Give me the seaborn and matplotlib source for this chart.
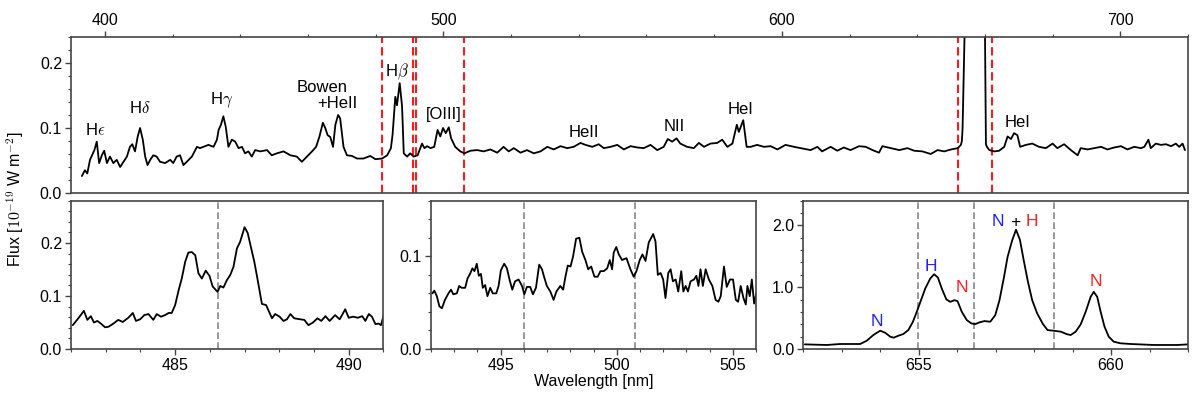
"""Spectrum overview with three zoom panels"""
import matplotlib
matplotlib.use('Agg')
import matplotlib.pyplot as plt
from matplotlib.ticker import MultipleLocator, FormatStrFormatter
import seaborn as sns
import numpy as np
import pandas as pd

# --- overview spectrum (blue part, up to H-alpha) ---
wl_blue = [393.2, 394.1, 394.8, 395.6, 396.4, 396.9, 397.6, 398.3, 399.1, 399.8,
           400.6, 401.5, 402.5, 403.5, 404.5, 405.5, 406.5, 407.4, 408.1, 408.9,
           409.7, 410.4, 411.2, 411.9, 412.6, 413.4, 414.3, 415.3, 416.3, 417.8,
           419.3, 420.2, 421.2, 422.2, 423.2, 424.2, 425.7, 427.2, 428.1, 429.1,
           430.6, 432.1, 433.1, 433.6, 434.3, 435.0, 435.7, 436.5, 437.5, 438.5,
           439.5, 440.5, 441.4, 442.4, 443.4, 444.4, 445.9, 447.9, 449.3, 450.8,
           452.8, 454.8, 456.7, 458.2, 459.7, 461.2, 462.4, 463.4, 464.4, 465.1,
           465.8, 466.6, 467.4, 468.1, 468.9, 469.5, 470.5, 471.5, 473.0, 474.5,
           476.4, 478.4, 479.9, 481.9, 483.4, 484.5, 485.0, 485.3, 485.8, 486.3,
           487.1, 487.8, 488.3, 489.3, 490.2, 491.2, 492.4, 493.7, 494.4, 495.2,
           496.2, 497.3, 498.3, 499.1, 499.9, 500.7, 501.6, 502.3, 503.5, 505.0,
           506.2, 508.0, 510.0, 511.9, 513.9, 515.9, 517.8, 519.3, 520.8, 522.8,
           524.7, 526.7, 528.7, 530.7, 532.6, 534.6, 536.6, 538.5, 540.5, 542.0,
           544.0, 545.9, 547.4, 549.4, 551.4, 553.3, 555.3, 557.3, 559.2, 561.2,
           563.2, 565.1, 566.3, 567.6, 568.9, 570.0, 572.0, 574.0, 575.5, 577.0,
           578.9, 580.9, 582.4, 583.9, 585.4, 586.7, 587.3, 588.6, 589.6, 590.8,
           592.7, 594.7, 596.7, 598.7, 601.1, 603.6, 605.5, 608.5, 610.5, 611.9,
           614.4, 616.4, 618.3, 620.3, 622.8, 624.8, 626.8, 628.7, 629.7, 632.2,
           634.7, 637.1, 639.1, 641.5, 644.0, 646.0, 648.0, 650.0, 652.0, 652.9]
flux_blue = [0.026, 0.035, 0.030, 0.051, 0.060, 0.066, 0.079, 0.046, 0.058, 0.065,
             0.046, 0.056, 0.046, 0.051, 0.040, 0.048, 0.056, 0.071, 0.075, 0.064,
             0.087, 0.100, 0.082, 0.056, 0.043, 0.051, 0.058, 0.056, 0.048, 0.046,
             0.051, 0.046, 0.056, 0.058, 0.043, 0.048, 0.056, 0.071, 0.069, 0.071,
             0.074, 0.071, 0.082, 0.097, 0.105, 0.118, 0.102, 0.071, 0.082, 0.079,
             0.069, 0.071, 0.061, 0.064, 0.056, 0.066, 0.064, 0.066, 0.058, 0.061,
             0.064, 0.058, 0.056, 0.048, 0.056, 0.064, 0.071, 0.087, 0.108, 0.100,
             0.089, 0.086, 0.071, 0.105, 0.120, 0.115, 0.071, 0.058, 0.057, 0.053,
             0.053, 0.057, 0.052, 0.053, 0.058, 0.069, 0.090, 0.112, 0.148, 0.135,
             0.169, 0.133, 0.061, 0.056, 0.061, 0.056, 0.058, 0.076, 0.069, 0.072,
             0.069, 0.071, 0.097, 0.087, 0.100, 0.092, 0.101, 0.084, 0.071, 0.064,
             0.061, 0.065, 0.066, 0.064, 0.067, 0.062, 0.071, 0.064, 0.069, 0.062,
             0.066, 0.061, 0.064, 0.071, 0.067, 0.072, 0.069, 0.071, 0.077, 0.074,
             0.071, 0.075, 0.069, 0.071, 0.074, 0.067, 0.072, 0.070, 0.069, 0.074,
             0.066, 0.071, 0.083, 0.079, 0.084, 0.076, 0.071, 0.069, 0.077, 0.071,
             0.076, 0.077, 0.082, 0.071, 0.076, 0.105, 0.094, 0.112, 0.071, 0.071,
             0.074, 0.071, 0.072, 0.067, 0.074, 0.071, 0.069, 0.066, 0.071, 0.064,
             0.071, 0.065, 0.070, 0.066, 0.072, 0.071, 0.066, 0.062, 0.072, 0.069,
             0.066, 0.069, 0.065, 0.064, 0.060, 0.066, 0.064, 0.067, 0.069, 0.074]

# --- overview spectrum around H-alpha (peak runs off the top) ---
wl_core = [653.2, 653.4, 654.3, 659.9, 660.3]
flux_core = [0.080, 0.100, 0.320, 0.320, 0.075]

# --- overview spectrum (red part, after H-alpha) ---
wl_red = [660.6, 661.3, 662.8, 664.2, 665.7, 666.7, 667.7, 668.6, 669.6, 670.4, 672.1,
          674.0, 676.0, 678.0, 680.0, 681.4, 683.4, 685.4, 687.4, 688.3, 690.3,
          692.3, 694.3, 696.2, 698.2, 700.2, 702.1, 704.1, 706.1, 707.1, 708.3,
          709.0, 710.5, 712.0, 713.5, 715.0, 716.4, 717.4, 718.4, 719.1]
flux_red = [0.071, 0.066, 0.064, 0.065, 0.071, 0.087, 0.083, 0.092, 0.089, 0.071, 0.074,
            0.076, 0.071, 0.069, 0.076, 0.069, 0.075, 0.066, 0.058, 0.069, 0.067,
            0.069, 0.071, 0.067, 0.070, 0.072, 0.067, 0.071, 0.069, 0.071, 0.082,
            0.069, 0.076, 0.074, 0.075, 0.072, 0.076, 0.071, 0.076, 0.066]

# --- H-beta zoom ---
wl_hb = [482.05, 482.21, 482.37, 482.47, 482.57, 482.66, 482.76, 482.86, 482.98, 483.08,
         483.22, 483.36, 483.49, 483.65, 483.78, 483.87, 483.99, 484.11, 484.23, 484.37,
         484.47, 484.59, 484.71, 484.81, 484.90, 485.00, 485.10, 485.19, 485.29, 485.38,
         485.48, 485.58, 485.67, 485.77, 485.88, 485.99, 486.08, 486.22, 486.30, 486.39,
         486.49, 486.59, 486.68, 486.78, 486.87, 487.00, 487.09, 487.18, 487.28, 487.37,
         487.50, 487.62, 487.79, 487.88, 488.01, 488.12, 488.22, 488.32, 488.43, 488.61,
         488.72, 488.84, 488.97, 489.10, 489.21, 489.33, 489.45, 489.61, 489.74, 489.90,
         490.00, 490.13, 490.26, 490.39, 490.48, 490.58, 490.67, 490.77, 490.86, 490.93,
         491.01]
flux_hb = [0.045, 0.058, 0.072, 0.055, 0.062, 0.050, 0.053, 0.048, 0.041, 0.042,
           0.048, 0.055, 0.051, 0.059, 0.068, 0.053, 0.056, 0.064, 0.066, 0.055,
           0.066, 0.061, 0.064, 0.068, 0.068, 0.083, 0.111, 0.133, 0.165, 0.182,
           0.183, 0.177, 0.143, 0.133, 0.148, 0.138, 0.118, 0.108, 0.119, 0.116,
           0.130, 0.140, 0.155, 0.190, 0.202, 0.230, 0.219, 0.193, 0.165, 0.133,
           0.085, 0.083, 0.058, 0.066, 0.061, 0.053, 0.056, 0.066, 0.058, 0.056,
           0.055, 0.045, 0.050, 0.058, 0.053, 0.062, 0.053, 0.064, 0.056, 0.075,
           0.059, 0.061, 0.059, 0.062, 0.053, 0.066, 0.061, 0.047, 0.048, 0.045,
           0.064]

# --- [OIII] zoom ---
wl_o3 = [492.06, 492.14, 492.25, 492.36, 492.47, 492.60, 492.75, 492.86, 492.96, 493.11,
         493.21, 493.32, 493.47, 493.57, 493.68, 493.78, 493.87, 493.97, 494.06, 494.15,
         494.23, 494.33, 494.43, 494.55, 494.66, 494.81, 494.91, 495.01, 495.15, 495.27,
         495.38, 495.50, 495.62, 495.77, 495.92, 496.02, 496.13, 496.27, 496.39, 496.52,
         496.66, 496.78, 496.88, 496.99, 497.14, 497.28, 497.40, 497.57, 497.69, 497.79,
         497.89, 498.01, 498.12, 498.25, 498.39, 498.51, 498.65, 498.77, 498.90, 499.04,
         499.18, 499.30, 499.44, 499.59, 499.70, 499.80, 499.87, 499.98, 500.09, 500.23,
         500.42, 500.59, 500.73, 500.85, 500.99, 501.11, 501.24, 501.38, 501.57, 501.67,
         501.77, 501.89, 502.00, 502.10, 502.22, 502.32, 502.42, 502.54, 502.65, 502.78,
         502.87, 502.97, 503.07, 503.18, 503.33, 503.43, 503.52, 503.61, 503.71, 503.83,
         503.97, 504.12, 504.26, 504.38, 504.48, 504.62, 504.74, 504.88, 505.01, 505.13,
         505.23, 505.34, 505.46, 505.56, 505.63, 505.73, 505.82, 505.92, 506.03]
flux_o3 = [0.060, 0.063, 0.057, 0.046, 0.044, 0.053, 0.060, 0.064, 0.059, 0.060,
           0.068, 0.066, 0.066, 0.076, 0.081, 0.087, 0.084, 0.092, 0.079, 0.081,
           0.066, 0.069, 0.057, 0.066, 0.060, 0.060, 0.068, 0.085, 0.092, 0.087,
           0.075, 0.064, 0.073, 0.075, 0.068, 0.059, 0.067, 0.067, 0.059, 0.066,
           0.091, 0.086, 0.077, 0.068, 0.062, 0.053, 0.062, 0.068, 0.064, 0.078,
           0.090, 0.089, 0.100, 0.119, 0.120, 0.105, 0.096, 0.086, 0.089, 0.078,
           0.078, 0.084, 0.084, 0.087, 0.096, 0.086, 0.104, 0.110, 0.102, 0.096,
           0.098, 0.086, 0.078, 0.084, 0.096, 0.102, 0.095, 0.115, 0.124, 0.116,
           0.080, 0.082, 0.075, 0.055, 0.082, 0.086, 0.073, 0.075, 0.062, 0.084,
           0.062, 0.068, 0.062, 0.073, 0.075, 0.079, 0.068, 0.086, 0.068, 0.086,
           0.075, 0.068, 0.053, 0.051, 0.057, 0.089, 0.067, 0.075, 0.075, 0.053,
           0.051, 0.068, 0.055, 0.048, 0.068, 0.057, 0.075, 0.049, 0.062]

# --- H-alpha + [NII] zoom ---
wl_ha = [652.04, 652.61, 652.96, 653.48, 653.65, 653.82, 654.00, 654.13, 654.26, 654.35,
         654.47, 654.60, 654.73, 654.85, 654.95, 655.06, 655.17, 655.30, 655.40, 655.50,
         655.60, 655.72, 655.82, 655.93, 656.01, 656.12, 656.25, 656.37, 656.47, 656.58,
         656.71, 656.86, 656.99, 657.10, 657.21, 657.31, 657.43, 657.53, 657.63, 657.73,
         657.84, 657.95, 658.08, 658.23, 658.35, 658.51, 658.70, 658.84, 658.95, 659.08,
         659.21, 659.34, 659.47, 659.55, 659.64, 659.73, 659.83, 659.94, 660.07, 660.25,
         660.51, 661.11, 661.72, 662.00]
flux_ha = [0.075, 0.065, 0.081, 0.081, 0.134, 0.226, 0.296, 0.263, 0.199, 0.183,
           0.215, 0.242, 0.306, 0.441, 0.602, 0.790, 0.978, 1.140, 1.210, 1.156,
           0.978, 0.802, 0.763, 0.790, 0.774, 0.602, 0.468, 0.414, 0.403, 0.431,
           0.452, 0.441, 0.548, 0.790, 1.140, 1.489, 1.758, 1.930, 1.770, 1.435,
           1.086, 0.790, 0.576, 0.403, 0.306, 0.296, 0.280, 0.242, 0.226, 0.280,
           0.398, 0.602, 0.844, 0.925, 0.844, 0.602, 0.360, 0.199, 0.118, 0.092,
           0.081, 0.065, 0.065, 0.075]

# line labels in the overview
line_names = ['H$\\epsilon$', 'H$\\delta$', 'H$\\gamma$', 'Bowen', '+HeII', 'H$\\beta$',
              '[OIII]', 'HeII', 'NII', 'HeI', 'HeI']
line_wl = [397.1, 410.4, 434.6, 464.1, 468.7, 486.3, 500.1, 541.5, 568.3, 587.8, 669.6]
line_y = [0.097, 0.130, 0.143, 0.162, 0.138, 0.187, 0.120, 0.093, 0.103, 0.129, 0.108]

# zoom window edges (red dashed lines in the overview)
zoom_edges = [482, 491, 492, 506, 652, 662]
hb_marks = [486.22]
o3_marks = [496.0, 500.8]
ha_marks = [654.98, 656.45, 658.52]

# labels on the H-alpha panel
ha_labels = ['N', 'H', 'N', 'N', '+', 'H', 'N']
ha_label_wl = [653.91, 655.32, 656.11, 657.06, 657.52, 657.95, 659.61]
ha_label_y = [0.44, 1.33, 0.99, 2.07, 2.05, 2.07, 1.09]
ha_label_col = ['#1f1fff', '#1f1fff', '#ff2020', '#1f1fff', 'black', '#ff2020', '#ff2020']

sns.set_theme(style='ticks')
plt.rcParams['font.family'] = ['Liberation Sans', 'DejaVu Sans']
plt.rcParams['mathtext.fontset'] = 'cm'
plt.rcParams['text.color'] = 'black'
plt.rcParams['axes.labelcolor'] = 'black'
plt.rcParams['axes.edgecolor'] = '#444444'
plt.rcParams['axes.linewidth'] = 1.2
plt.rcParams['xtick.color'] = '#444444'
plt.rcParams['ytick.color'] = '#444444'
plt.rcParams['xtick.labelcolor'] = 'black'
plt.rcParams['ytick.labelcolor'] = 'black'
FS = 11.5

fig = plt.figure(figsize=(12, 3.97), dpi=100)
ax_top = fig.add_axes([0.0592, 0.5139, 0.9308, 0.3929])
ax_hb = fig.add_axes([0.0592, 0.1209, 0.2603, 0.3736])
ax_o3 = fig.add_axes([0.3592, 0.1209, 0.2708, 0.3736])
ax_ha = fig.add_axes([0.6694, 0.1209, 0.3206, 0.3736])

# overview
top = pd.DataFrame({'wl': wl_blue + wl_core + wl_red,
                    'flux': flux_blue + flux_core + flux_red})
sns.lineplot(data=top, x='wl', y='flux', ax=ax_top, color='black', lw=1.3,
             estimator=None, sort=True)
for e in zoom_edges:
    ax_top.axvline(e, color='#ff1a1a', ls=(0, (4, 2)), lw=1.5, zorder=1)
for name, x, y in zip(line_names, line_wl, line_y):
    ax_top.text(x, y, name, ha='center', va='center', fontsize=FS + 0.5)
ax_top.set_xlim(390, 720)
ax_top.set_ylim(0, 0.24)
ax_top.xaxis.tick_top()
ax_top.xaxis.set_major_locator(MultipleLocator(100))
ax_top.xaxis.set_minor_locator(MultipleLocator(20))
ax_top.yaxis.set_major_locator(MultipleLocator(0.1))
ax_top.yaxis.set_minor_locator(MultipleLocator(0.02))

# zoom panels
panels = [(ax_hb, wl_hb, flux_hb, hb_marks, (482, 491), (0, 0.28), 0.1, 0.02),
          (ax_o3, wl_o3, flux_o3, o3_marks, (492, 506), (0, 0.16), 0.1, 0.02),
          (ax_ha, wl_ha, flux_ha, ha_marks, (652, 662), (0, 2.4), 1.0, 0.2)]
for ax, wl, fl, marks, xl, yl, ymaj, ymin in panels:
    df = pd.DataFrame({'wl': wl, 'flux': fl})
    sns.lineplot(data=df, x='wl', y='flux', ax=ax, color='black', lw=1.3,
                 estimator=None, sort=True)
    for m in marks:
        ax.axvline(m, color='#888888', ls=(0, (4, 2)), lw=1.2, zorder=1)
    ax.set_xlim(*xl)
    ax.set_ylim(*yl)
    ax.xaxis.set_major_locator(MultipleLocator(5))
    ax.xaxis.set_minor_locator(MultipleLocator(1))
    ax.yaxis.set_major_locator(MultipleLocator(ymaj))
    ax.yaxis.set_minor_locator(MultipleLocator(ymin))

for lab, x, y, c in zip(ha_labels, ha_label_wl, ha_label_y, ha_label_col):
    ax_ha.text(x, y, lab, ha='center', va='center', color=c, fontsize=FS + 1)

for ax in [ax_top, ax_hb, ax_o3, ax_ha]:
    ax.set_xlabel('')
    ax.set_ylabel('')
    for s in ax.spines.values():
        s.set_visible(True)
    ax.tick_params(which='major', length=4.5, width=1, labelsize=FS, pad=2)
    ax.tick_params(which='minor', length=2.5, width=0.8)
    ax.yaxis.set_major_formatter(FormatStrFormatter('%.1f'))

fig.text(0.013, 0.497, 'Flux [$10^{-19}$ W m$^{-2}$]', rotation=90,
         ha='center', va='center', fontsize=FS)
fig.text(0.4946, 0.038, 'Wavelength [nm]', ha='center', va='center', fontsize=FS)

plt.savefig('out.png', dpi=100)
